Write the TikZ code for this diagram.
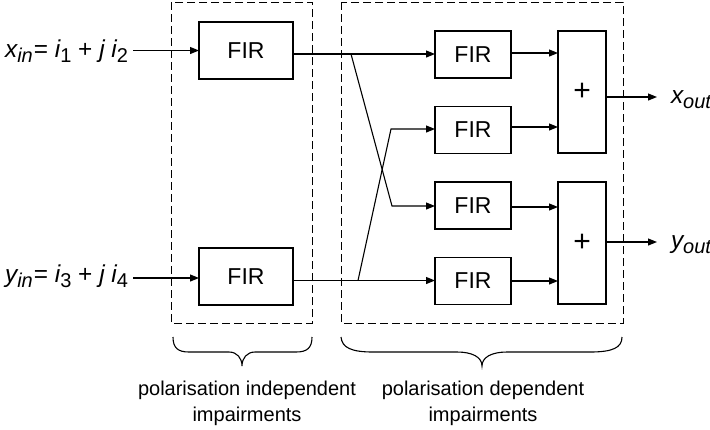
\documentclass[tikz,border=0pt]{standalone}
\usepackage{fontspec}
\setmainfont{Liberation Sans}
\usetikzlibrary{arrows.meta}
% lowered subscript in the running font
\newcommand\lowsub[1]{\raisebox{-2.8pt}{\fontsize{10}{11}\selectfont #1}}
\begin{document}
\begin{tikzpicture}[x=0.5pt,y=-0.5pt,
  every node/.style={inner sep=0pt, outer sep=0pt},
  wire/.style={line width=0.55pt},
  sig/.style={wire, -{Triangle[length=4.5pt,width=3.5pt]}},
  group/.style={line width=0.45pt, dash pattern=on 4pt off 2pt},
  firbig/.style={draw, line width=0.55pt, minimum width=47pt, minimum height=28.5pt,
    font=\fontsize{11.5}{13}\selectfont},
  firsmall/.style={draw, line width=0.55pt, minimum width=38pt, minimum height=23.5pt,
    font=\fontsize{11.5}{13}\selectfont},
  adder/.style={draw, line width=0.55pt, minimum width=24pt, minimum height=61pt,
    font=\fontsize{15}{16}\selectfont},
  lbl/.style={font=\fontsize{12.2}{14}\selectfont},
  note/.style={font=\fontsize{10}{13}\selectfont, align=center},
  bracepath/.style={line width=0.55pt}
]
\useasboundingbox (0,0) rectangle (710,429);

% dashed groups
\draw[group] (171,2) rectangle (312,323);
\draw[group] (341,2) rectangle (623,323);

% first stage filters
\node[firbig] (f1) at (246,50.5) {FIR};
\node[firbig] (f2) at (246,276.5) {FIR};

% second stage filters
\node[firsmall] (a) at (473,54.5) {FIR};
\node[firsmall] (b) at (473,130) {FIR};
\node[firsmall] (c) at (473,205.5) {FIR};
\node[firsmall] (d) at (473,281) {FIR};

% adders
\node[adder] (s1) at (582,92) {+};
\node[adder] (s2) at (582,243) {+};

% input labels
\node[lbl, anchor=base east] (xin) at (128,57)
  {{\itshape x\lowsub{in}}\kern0.5pt= {\itshape i}\lowsub{1} + {\itshape j i}\lowsub{2}};
\node[lbl, anchor=base east] (yin) at (128,282)
  {{\itshape y\lowsub{in}}\kern0.5pt= {\itshape i}\lowsub{3} + {\itshape j i}\lowsub{4}};

% output labels
\node[lbl, anchor=base west] (xout) at (671,103) {\itshape x\lowsub{out}};
\node[lbl, anchor=base west] (yout) at (671,248) {\itshape y\lowsub{out}};

% inputs
\coordinate (xs) at (133,50.5);
\coordinate (ys) at (133,278);
\draw[sig] (xs) -- (xs -| f1.west);
\draw[sig] (ys) -- (ys -| f2.west);

% branching and cross-coupling
\coordinate (o1) at (293,54);
\coordinate (o2) at (293,280.5);
\coordinate (k1) at (351,54);
\coordinate (k2) at (358,280.5);
\coordinate (t1) at (392,206);
\coordinate (t2) at (391,129);
\draw[sig] (o1) -- (o1 -| a.west);
\draw[sig] (o2) -- (o2 -| d.west);
\draw[sig] (k1) -- (t1) -- (t1 -| c.west);
\draw[sig] (k2) -- (t2) -- (t2 -| b.west);

% into the adders
\coordinate (ia) at (511,53);
\coordinate (ib) at (511,127);
\coordinate (ic) at (511,207);
\coordinate (id) at (511,281);
\draw[sig] (ia) -- (ia -| s1.west);
\draw[sig] (ib) -- (ib -| s1.west);
\draw[sig] (ic) -- (ic -| s2.west);
\draw[sig] (id) -- (id -| s2.west);

% outputs
\coordinate (e1) at (657,97);
\coordinate (e2) at (657,242);
\draw[sig] (e1 -| s1.east) -- (e1);
\draw[sig] (e2 -| s2.east) -- (e2);

% braces
\draw[bracepath] (173,337) .. controls (173,348) and (178,352) .. (189,352)
  -- (229,352) .. controls (237,352) and (242,358) .. (242,366)
  .. controls (242,358) and (247,352) .. (255,352)
  -- (296,352) .. controls (307,352) and (312,348) .. (312,337);
\draw[bracepath] (341,337) .. controls (342,348) and (352,352) .. (373,352)
  -- (457,352) .. controls (472,352) and (482,357) .. (482,366)
  .. controls (482,357) and (492,352) .. (507,352)
  -- (590,352) .. controls (612,352) and (622,348) .. (622,337);

% captions
\node[note, anchor=north] (cap1) at (247,381) {polarisation independent\\impairments};
\node[note, anchor=north] (cap2) at (483,381) {polarisation dependent\\impairments};
\end{tikzpicture}
\end{document}
